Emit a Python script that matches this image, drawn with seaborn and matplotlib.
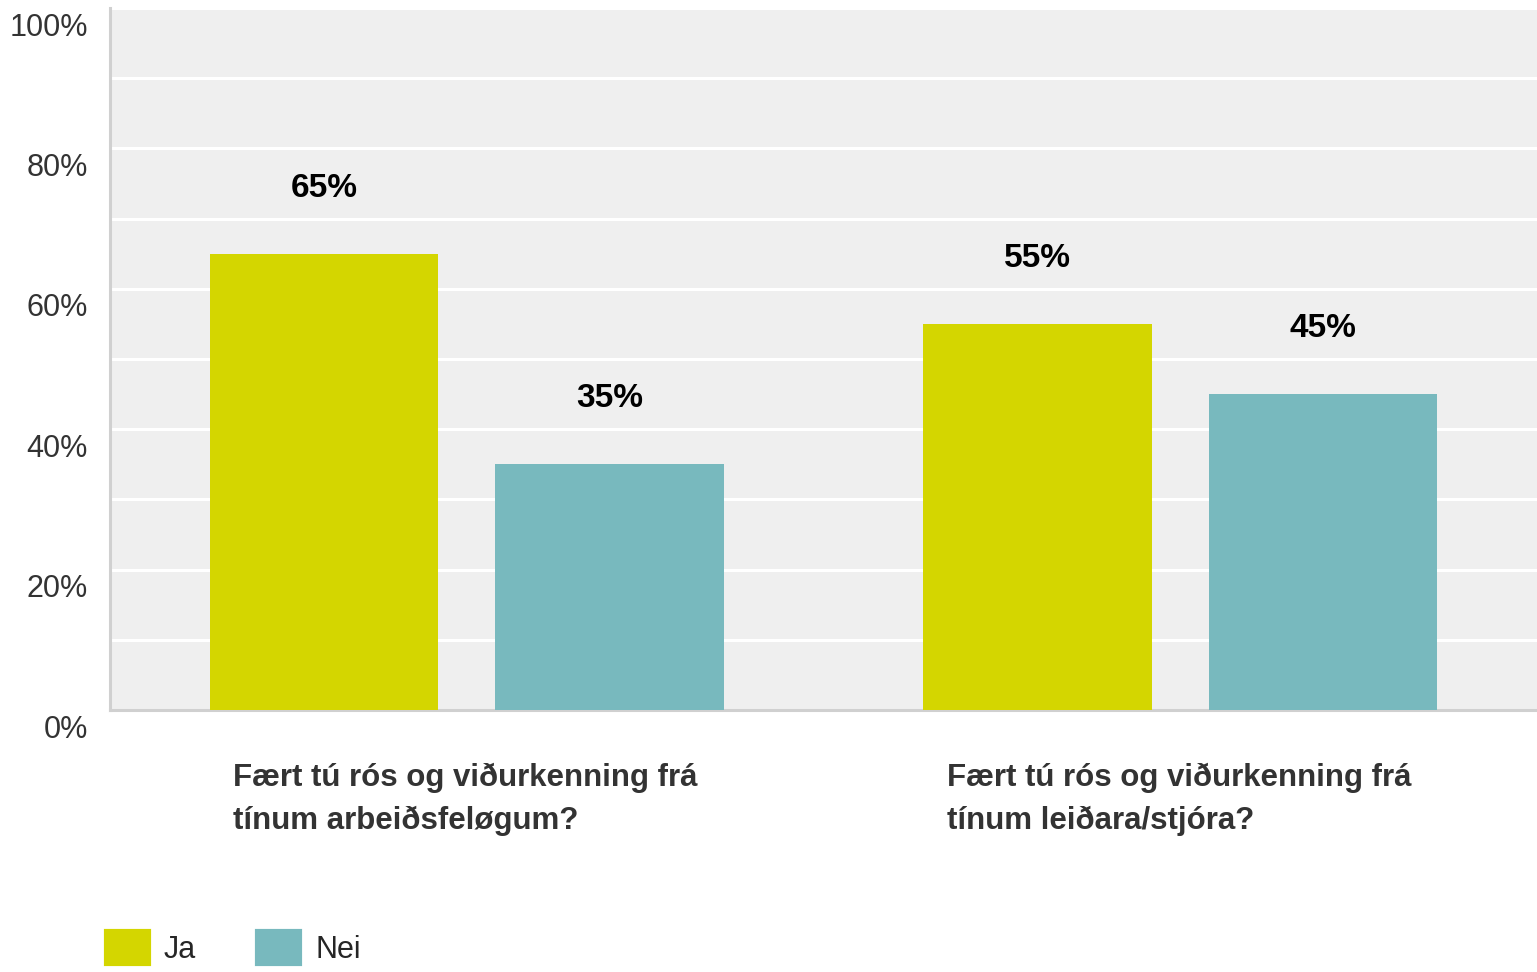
import pandas as pd
import matplotlib.pyplot as plt
import matplotlib.transforms as mtransforms
from matplotlib.patches import Patch
import seaborn as sns

questions = ['Fært tú rós og viðurkenning frá\ntínum arbeiðsfeløgum?',
             'Fært tú rós og viðurkenning frá\ntínum leiðara/stjóra?']
answers = ['Ja', 'Nei']
ja_values = [65, 55]
nei_values = [35, 45]
y_ticks = [0, 20, 40, 60, 80, 100]

colors = {'Ja': '#d4d600', 'Nei': '#78b9be'}

df = pd.DataFrame({
    'question': questions * 2,
    'answer': ['Ja'] * len(questions) + ['Nei'] * len(questions),
    'value': ja_values + nei_values,
})

sns.set_theme(style='white')
plt.rcParams['font.family'] = ['Liberation Sans', 'DejaVu Sans']

fig = plt.figure(figsize=(15.37, 9.72), dpi=100)
ax = fig.add_axes([110 / 1537, 1 - 710 / 972, 1 - 110 / 1537, 702 / 972])
ax.set_facecolor('#efefef')

sns.barplot(data=df, x='question', y='value', hue='answer', hue_order=answers,
            palette=colors, width=0.8, gap=0.2, saturation=1, legend=False,
            edgecolor='none', linewidth=0, ax=ax, zorder=3)

ax.set_xlim(-0.5, 1.5)
ax.set_ylim(0, 100)
ax.set_yticks(range(0, 101, 10), minor=True)
ax.set_yticks(y_ticks)
ax.set_yticklabels(['%d%%' % t for t in y_ticks], fontsize=22, color='#333333')
ax.grid(axis='y', which='both', color='white', linewidth=2.2, zorder=1)
ax.set_axisbelow(True)
ax.tick_params(axis='y', length=0, pad=16, which='both')
ax.tick_params(axis='x', length=0)
shift = mtransforms.ScaledTranslation(0, -0.16, fig.dpi_scale_trans)
for lbl in ax.get_yticklabels():
    lbl.set_transform(lbl.get_transform() + shift)

# question labels, left-aligned under each group
ax.set_xticklabels([])
trans = mtransforms.blended_transform_factory(ax.transData, ax.transAxes)
for i, q in enumerate(questions):
    ax.text(i - 0.327, -0.075, q, transform=trans, ha='left', va='top',
            fontsize=22.5, fontweight='bold', color='#333333', linespacing=1.55)

# value labels
for container in ax.containers:
    ax.bar_label(container, labels=['%d%%' % v for v in container.datavalues],
                 padding=36, fontsize=24, fontweight='bold', color='black')

ax.set_xlabel('')
ax.set_ylabel('')
for side in ['top', 'right']:
    ax.spines[side].set_visible(False)
for side in ['left', 'bottom']:
    ax.spines[side].set_color('#d0d0d0')
    ax.spines[side].set_linewidth(2.2)

handles = [Patch(facecolor=colors[a], edgecolor=colors[a], linewidth=3,
                 joinstyle='round', label=a) for a in answers]
fig.legend(handles=handles, loc='upper left', bbox_to_anchor=(106 / 1537, 1 - 931 / 972),
           ncol=2, frameon=False, fontsize=22, handlelength=1.4, handleheight=1.3,
           handletextpad=0.5, columnspacing=2.0, borderpad=0, borderaxespad=0)

fig.savefig('out.png', dpi=100)
